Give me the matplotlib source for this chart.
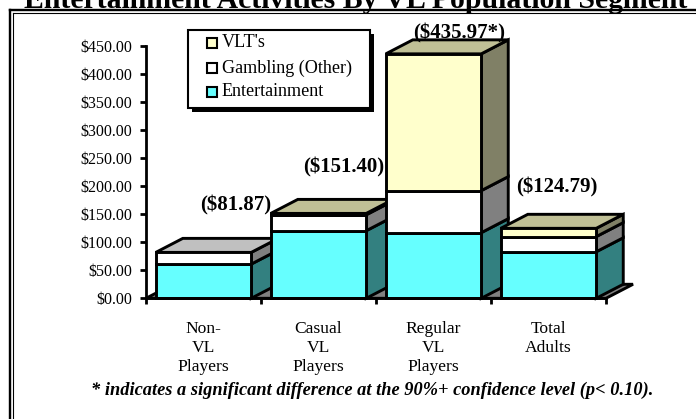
import numpy as np
import matplotlib
matplotlib.use("Agg")
import matplotlib.pyplot as plt
from matplotlib.patches import Polygon, Rectangle
from matplotlib.lines import Line2D

# data
categories = ["Non-\nVL\nPlayers", "Casual\nVL\nPlayers", "Regular\nVL\nPlayers", "Total\nAdults"]
entertainment = [61.0, 120.5, 117.0, 83.0]
gambling_other = [20.87, 28.4, 75.0, 27.0]
vlts = [0.0, 2.5, 243.97, 14.79]
total_labels = ["($81.87)", "($151.40)", "($435.97*)", "($124.79)"]
y_ticks = np.arange(0, 451, 50)

series_names = ["Entertainment", "Gambling (Other)", "VLT's"]
series_values = [entertainment, gambling_other, vlts]
# front, side, top colours
series_colors = [("#66ffff", "#338080", "#4cbfbf"),
                 ("#ffffff", "#808080", "#c0c0c0"),
                 ("#ffffcc", "#808066", "#c0c096")]

W, H = 696, 419
plt.rcParams["font.family"] = "Liberation Serif"


def fx(x):
    return x / W


def fy(y):
    return 1 - y / H


fig = plt.figure(figsize=(W / 100, H / 100), dpi=100)
fig.patch.set_facecolor("white")

ax = fig.add_axes([fx(146), fy(298.3), 460 / W, 252.3 / H])
ax.set_xlim(-0.5, 3.5)
ax.set_ylim(0, 450)
ax.patch.set_visible(False)
for s in ["top", "right"]:
    ax.spines[s].set_visible(False)
for s in ["left", "bottom"]:
    ax.spines[s].set_linewidth(2.0)
    ax.spines[s].set_zorder(20)

ax.set_yticks(y_ticks)
ax.set_yticklabels([f"${v:.2f}" for v in y_ticks])
ax.tick_params(axis="y", direction="out", length=4, width=2.0, pad=6, labelsize=11.5)
ax.set_xticks(np.arange(-0.5, 4, 1))
ax.set_xticklabels([""] * 5)
ax.tick_params(axis="x", which="major", direction="out", length=4, width=2.0)
ax.set_xticks(range(4), minor=True)
ax.set_xticklabels(categories, minor=True, fontsize=12.6, linespacing=1.25)
ax.tick_params(axis="x", which="minor", length=0, pad=16.5)

bar_w = 0.83
dx, dy = 0.235, 25.0
lw = 2.1

# floor
floor = Polygon([(-0.5, 0), (3.5, 0), (3.5 + dx, dy), (-0.5 + dx, dy)],
                closed=True, facecolor="#808080", edgecolor="black",
                lw=lw, zorder=2, clip_on=False)
ax.add_patch(floor)

for i in range(len(categories)):
    xl = i - bar_w / 2
    xr = i + bar_w / 2
    base = 0.0
    z = 3 + i * 5
    top_color = None
    for vals, (fc, sc, tc) in zip(series_values, series_colors):
        v = vals[i]
        if v <= 0:
            continue
        t = base + v
        ax.add_patch(Rectangle((xl, base), bar_w, v, facecolor=fc, edgecolor="black",
                               lw=lw, zorder=z + 1, clip_on=False, joinstyle="miter"))
        ax.add_patch(Polygon([(xr, base), (xr + dx, base + dy), (xr + dx, t + dy), (xr, t)],
                             closed=True, facecolor=sc, edgecolor="black", lw=lw,
                             zorder=z, clip_on=False))
        top_color = tc
        base = t
    ax.add_patch(Polygon([(xl, base), (xl + dx, base + dy), (xr + dx, base + dy), (xr, base)],
                         closed=True, facecolor=top_color, edgecolor="black", lw=lw,
                         zorder=z, clip_on=False))

# total labels
label_dx = [0.28, 0.215, 0.226, 0.074]
label_dy = [84.5, 82.3, 37.0, 72.4]
for i, txt in enumerate(total_labels):
    total = entertainment[i] + gambling_other[i] + vlts[i]
    ax.text(i + label_dx[i], total + label_dy[i], txt, ha="center", va="center",
            fontsize=15, fontweight="bold", zorder=40, clip_on=False)

# legend
bx0, by0, bx1, by1 = 188, 30, 370, 108
fig.patches.append(Rectangle((fx(bx0 + 4), fy(by1 + 4)), (bx1 - bx0) / W, (by1 - by0) / H,
                             transform=fig.transFigure, facecolor="black", edgecolor="none", zorder=50))
fig.patches.append(Rectangle((fx(bx0), fy(by1)), (bx1 - bx0) / W, (by1 - by0) / H,
                             transform=fig.transFigure, facecolor="white", edgecolor="black",
                             lw=1.5, zorder=51))
legend_rows = [(series_names[2], series_colors[2][0], 42.7),
               (series_names[1], series_colors[1][0], 68.3),
               (series_names[0], series_colors[0][0], 91.7)]
for name, col, yc in legend_rows:
    fig.patches.append(Rectangle((fx(207), fy(yc + 5)), 10 / W, 10 / H,
                                 transform=fig.transFigure, facecolor=col,
                                 edgecolor="black", lw=1.5, zorder=52))
    fig.text(fx(222), fy(yc), name, ha="left", va="center", fontsize=13.1, zorder=53)

# title (cut off by the top of the picture)
fig.text(fx(356), fy(7.5), "Entertainment Activities By VL Population Segment",
         ha="center", va="baseline", fontsize=21.4, fontweight="bold")

# footnote
fig.text(fx(372), fy(390), "* indicates a significant difference at the 90%+ confidence level (p< 0.10).",
         ha="center", va="center", fontsize=13.2, fontweight="bold", fontstyle="italic")

# double frame
for y, w in [(10.5, 2.4), (13.3, 1.1)]:
    fig.add_artist(Line2D([fx(9.5 if w > 2 else 13.3), 1.01], [fy(y), fy(y)],
                          transform=fig.transFigure, color="black", lw=w * 0.72))
for x, w in [(9.5, 2.4), (13.3, 1.1)]:
    fig.add_artist(Line2D([fx(x), fx(x)], [fy(10.5 if w > 2 else 13.3), -0.01],
                          transform=fig.transFigure, color="black", lw=w * 0.72))

fig.savefig("out.png", dpi=100, facecolor="white")
